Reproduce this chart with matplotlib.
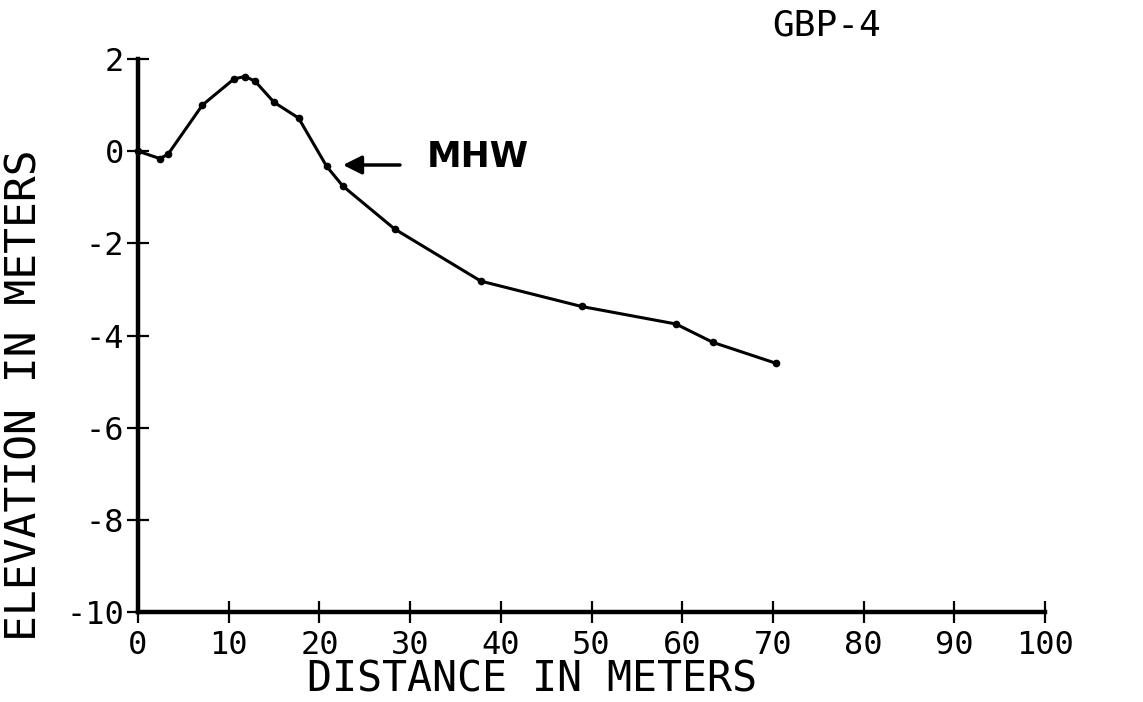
import matplotlib
matplotlib.use("Agg")
import matplotlib.pyplot as plt

# Data read from the profile
distance = [0, 2.4, 3.3, 7.1, 10.6, 11.8, 12.9, 15.0, 17.7, 20.8, 22.6,
            28.3, 37.8, 48.9, 59.3, 63.4, 70.3]
elevation = [0.0, -0.16, -0.07, 1.0, 1.57, 1.62, 1.52, 1.06, 0.72, -0.33, -0.76,
             -1.69, -2.82, -3.37, -3.75, -4.15, -4.6]
x_ticks = [0, 10, 20, 30, 40, 50, 60, 70, 80, 90, 100]
y_ticks = [2, 0, -2, -4, -6, -8, -10]
title = "GBP-4"
mhw_label = "MHW"
xlabel = "DISTANCE IN METERS"
ylabel = "ELEVATION IN METERS"

MONO = ['DejaVu Sans Mono', 'DejaVu Sans']
plt.rcParams['font.family'] = MONO
plt.rcParams['axes.unicode_minus'] = False

fig = plt.figure(figsize=(11.43, 7.02), dpi=100)
W, H = 1143, 702
ax = fig.add_axes([138 / W, 1 - 612 / H, (1045 - 138) / W, (612 - 59) / H])

ax.plot(distance, elevation, color='black', lw=2.2, marker='o', ms=4.5,
        clip_on=False, zorder=3)

ax.set_xlim(0, 100)
ax.set_ylim(-10, 2)
ax.set_xticks(x_ticks)
ax.set_yticks(y_ticks)
ax.set_xticklabels([str(v) for v in x_ticks])
ax.set_yticklabels([str(v) for v in y_ticks])

for s in ['top', 'right']:
    ax.spines[s].set_visible(False)
for s in ['left', 'bottom']:
    ax.spines[s].set_linewidth(3.2)
    ax.spines[s].set_color('black')
    ax.spines[s].set_capstyle('projecting')

ax.tick_params(axis='both', direction='inout', length=16, width=1.6,
               labelsize=23, colors='black')
ax.tick_params(axis='x', pad=5)
ax.tick_params(axis='y', pad=2)

# Arrow and MHW label (figure pixel coords measured from bottom-left)
ax.annotate('', xy=(343, H - 165), xycoords='figure pixels',
            xytext=(400, H - 165), textcoords='figure pixels',
            arrowprops=dict(arrowstyle='-|>', color='black', lw=2.5,
                            mutation_scale=28, shrinkA=0, shrinkB=0))
fig.text(427 / W, 1 - 157 / H, mhw_label, fontsize=25, fontweight='bold',
         family='DejaVu Sans', ha='left', va='center')

fig.text(772 / W, 1 - 26 / H, title, fontsize=26, ha='left', va='center')
fig.text(532 / W, 1 - 680 / H, xlabel, fontsize=30, ha='center', va='center')
fig.text(25 / W, 1 - 395 / H, ylabel, fontsize=31, ha='center', va='center',
         rotation=90)

fig.savefig('out.png', dpi=100)
